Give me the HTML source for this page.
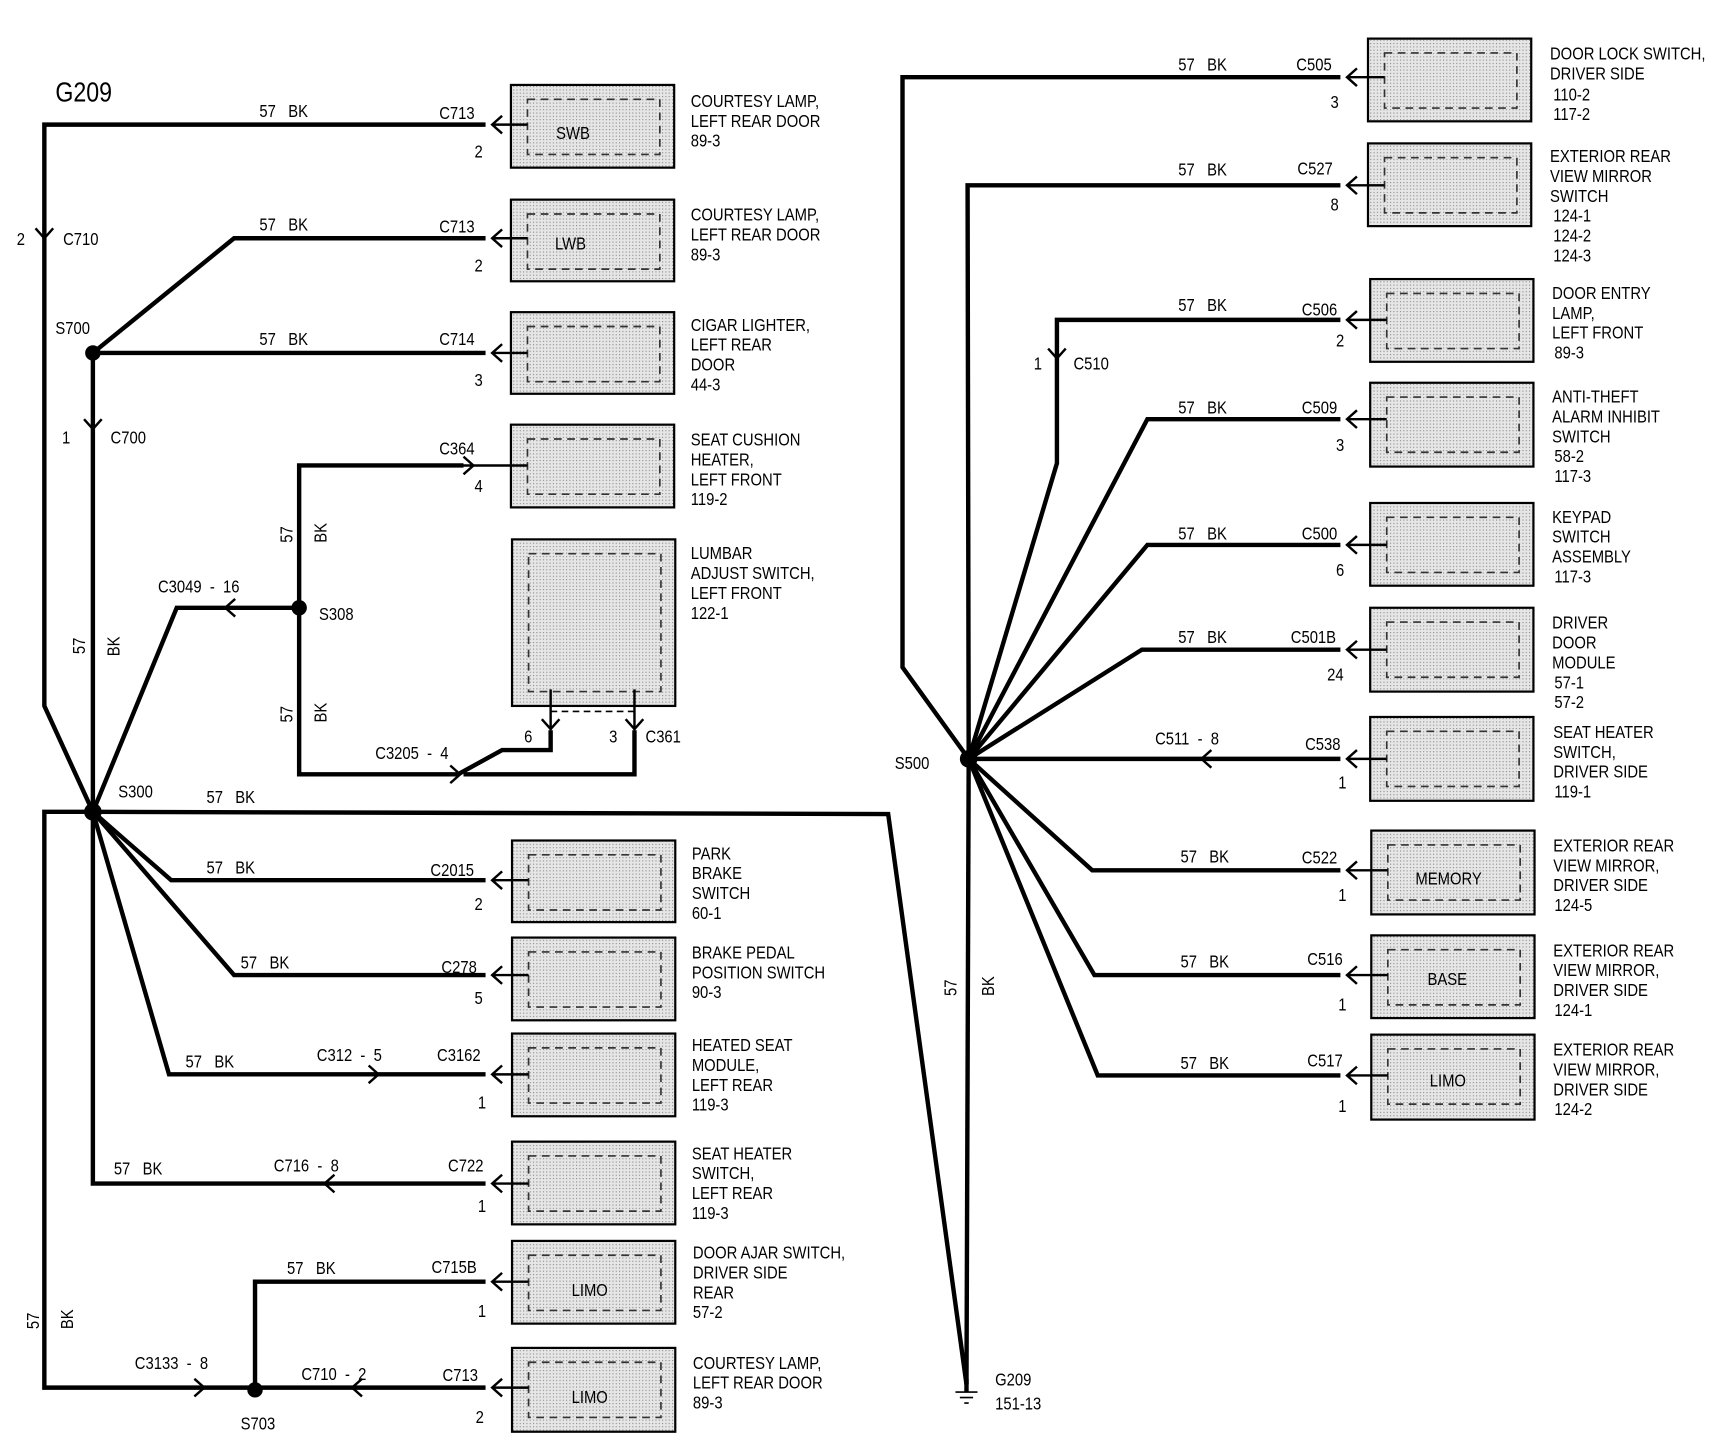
<!DOCTYPE html>
<html><head><meta charset="utf-8"><style>
html,body{margin:0;padding:0;background:#fff;}
svg{display:block}
text{font-family:"Liberation Sans Narrow","Liberation Sans",sans-serif;font-size:16px;fill:#000;white-space:pre;transform-box:fill-box;transform-origin:0 50%;transform:scaleX(0.84)}
text.r{transform-box:view-box;transform-origin:0 0}
.w{stroke:#000;stroke-width:4;fill:none;stroke-linejoin:miter}
.t{stroke:#000;stroke-width:1.5;fill:none}
.c{stroke:#000;stroke-width:2.2;fill:none}
.b{fill:url(#dots);stroke:#000;stroke-width:2}
.d{fill:none;stroke:#333;stroke-width:1.5;stroke-dasharray:7 5}
</style></head><body>
<svg width="1730" height="1456" viewBox="0 0 1568 1320" xmlns="http://www.w3.org/2000/svg">
<defs>
<pattern id="dots" width="3" height="3" patternUnits="userSpaceOnUse">
<rect width="3" height="3" fill="#e6e6e6"/><rect width="1" height="1" fill="#8a8a8a"/>
</pattern>
</defs>

<g>
<rect class="b" x="463" y="77" width="148" height="75"/><rect class="d" x="478" y="90" width="120" height="50"/>
<rect class="b" x="463" y="181" width="148" height="74"/><rect class="d" x="478" y="194" width="120" height="50"/>
<rect class="b" x="463" y="283" width="148" height="74"/><rect class="d" x="478" y="296" width="120" height="50"/>
<rect class="b" x="463" y="385" width="148" height="75"/><rect class="d" x="478" y="398" width="120" height="50"/>
<rect class="b" x="464" y="489" width="148" height="151"/><rect class="d" x="479" y="502" width="120" height="125"/>
<rect class="b" x="464" y="762" width="148" height="74"/><rect class="d" x="479" y="775" width="120" height="50"/>
<rect class="b" x="464" y="850" width="148" height="75"/><rect class="d" x="479" y="863" width="120" height="50"/>
<rect class="b" x="464" y="937" width="148" height="75"/><rect class="d" x="479" y="950" width="120" height="50"/>
<rect class="b" x="464" y="1035" width="148" height="75"/><rect class="d" x="479" y="1048" width="120" height="50"/>
<rect class="b" x="464" y="1125" width="148" height="75"/><rect class="d" x="479" y="1138" width="120" height="50"/>
<rect class="b" x="464" y="1222" width="148" height="76"/><rect class="d" x="479" y="1235" width="120" height="50"/>
</g>
<text x="504" y="126">SWB</text>
<text x="503" y="226">LWB</text>
<text x="518" y="1175">LIMO</text>
<text x="518" y="1272">LIMO</text>

<g>
<rect class="b" x="1240" y="35" width="148" height="75"/><rect class="d" x="1255" y="48" width="120" height="50"/>
<rect class="b" x="1240" y="130" width="148" height="75"/><rect class="d" x="1255" y="143" width="120" height="50"/>
<rect class="b" x="1242" y="253" width="148" height="75"/><rect class="d" x="1257" y="266" width="120" height="50"/>
<rect class="b" x="1242" y="347" width="148" height="76"/><rect class="d" x="1257" y="360" width="120" height="50"/>
<rect class="b" x="1242" y="456" width="148" height="75"/><rect class="d" x="1257" y="469" width="120" height="50"/>
<rect class="b" x="1242" y="551" width="148" height="76"/><rect class="d" x="1257" y="564" width="120" height="50"/>
<rect class="b" x="1242" y="650" width="148" height="76"/><rect class="d" x="1257" y="663" width="120" height="50"/>
<rect class="b" x="1243" y="753" width="148" height="76"/><rect class="d" x="1258" y="766" width="120" height="50"/>
<rect class="b" x="1243" y="848" width="148" height="75"/><rect class="d" x="1258" y="861" width="120" height="50"/>
<rect class="b" x="1243" y="938" width="148" height="77"/><rect class="d" x="1258" y="951" width="120" height="50"/>
</g>
<text x="1283" y="802">MEMORY</text>
<text x="1294" y="893">BASE</text>
<text x="1296" y="985">LIMO</text>

<polyline class="w" points="440,113 40,113 40,640 84,736"/>
<polyline class="w" points="84,320 212,216 440,216"/>
<polyline class="w" points="84,320 440,320"/>
<polyline class="w" points="84,320 84,736"/>
<polyline class="w" points="420,422 271,422 271,702 415,702"/>
<polyline class="w" points="271,551 160,551 84,736"/>
<polyline class="w" points="415,702 455,680 499,680 499,662"/>
<polyline class="w" points="575,662 575,702 420,702"/>
<polyline class="w" points="84,736 805,738 876,1255"/>
<polyline class="w" points="84,736 40,736 40,1258 231,1258"/>
<polyline class="w" points="84,736 155,798 440,798"/>
<polyline class="w" points="84,736 212,884 440,884"/>
<polyline class="w" points="84,736 153,974 440,974"/>
<polyline class="w" points="84,736 84,1073 440,1073"/>
<polyline class="w" points="231,1258 231,1162 440,1162"/>
<polyline class="w" points="231,1258 440,1258"/>
<line class="w" x1="876" y1="1250" x2="876" y2="1262"/>
<line class="t" x1="866" y1="1262" x2="886" y2="1262"/>
<line class="t" x1="870" y1="1267" x2="882" y2="1267"/>
<line class="t" x1="874" y1="1272" x2="878" y2="1272"/>

<circle cx="84" cy="320" r="7"/>
<circle cx="271" cy="551" r="7"/>
<circle cx="84" cy="736" r="8"/>
<circle cx="231" cy="1260" r="7"/>
<circle cx="878" cy="688" r="8"/>

<g class="c">
<path d="M455,105 L446,113 L455,121 M446,113 H478"/>
<path d="M455,208 L446,216 L455,224 M446,216 H478"/>
<path d="M455,312 L446,320 L455,328 M446,320 H478"/>
<path d="M420,414 L429,422 L420,430 M420,422 H478"/>
<path d="M455,790 L446,798 L455,806 M446,798 H479"/>
<path d="M455,876 L446,884 L455,892 M446,884 H479"/>
<path d="M455,966 L446,974 L455,982 M446,974 H479"/>
<path d="M455,1065 L446,1073 L455,1081 M446,1073 H479"/>
<path d="M455,1154 L446,1162 L455,1170 M446,1162 H479"/>
<path d="M455,1250 L446,1258 L455,1266 M446,1258 H479"/>
<path d="M213,543 L204,551 L213,559"/>
<path d="M334,966 L343,974 L334,982"/>
<path d="M303,1065 L294,1073 L303,1081"/>
<path d="M408,694 L417,702 L408,710"/>
<path d="M176,1250 L185,1258 L176,1266"/>
<path d="M328,1250 L319,1258 L328,1266"/>
<path d="M32,207 L40,216 L48,207"/>
<path d="M76,380 L84,389 L92,380"/>
<path d="M491,652 L499,661 L507,652 M499,625 V662"/>
<path d="M567,652 L575,661 L583,652 M575,625 V662"/>
</g>
<line x1="499" y1="645" x2="575" y2="645" stroke="#000" stroke-width="1.5" stroke-dasharray="6 4"/>

<polyline class="w" points="878,688 818,605 818,70 1215,70"/>
<polyline class="w" points="878,688 877,168 1215,168"/>
<polyline class="w" points="878,688 958,420 958,290 1215,290"/>
<polyline class="w" points="878,688 1040,380 1215,380"/>
<polyline class="w" points="878,688 1040,494 1215,494"/>
<polyline class="w" points="878,688 1035,589 1215,589"/>
<polyline class="w" points="878,688 1215,688"/>
<polyline class="w" points="878,688 990,789 1215,789"/>
<polyline class="w" points="878,688 992,884 1215,884"/>
<polyline class="w" points="878,688 995,975 1215,975"/>
<polyline class="w" points="878,688 876,1255"/>
<g class="c">
<path d="M1230,62 L1221,70 L1230,78 M1221,70 H1255"/>
<path d="M1230,160 L1221,168 L1230,176 M1221,168 H1255"/>
<path d="M1230,282 L1221,290 L1230,298 M1221,290 H1257"/>
<path d="M1230,372 L1221,380 L1230,388 M1221,380 H1257"/>
<path d="M1230,486 L1221,494 L1230,502 M1221,494 H1257"/>
<path d="M1230,581 L1221,589 L1230,597 M1221,589 H1257"/>
<path d="M1230,680 L1221,688 L1230,696 M1221,688 H1257"/>
<path d="M1230,781 L1221,789 L1230,797 M1221,789 H1258"/>
<path d="M1230,876 L1221,884 L1230,892 M1221,884 H1258"/>
<path d="M1230,967 L1221,975 L1230,983 M1221,975 H1258"/>
<path d="M1098,680 L1089,688 L1098,696"/>
<path d="M950,316 L958,325 L966,316"/>
</g>

<text x="50" y="92" style="font-size:25px">G209</text>
<text x="235" y="106">57   BK</text><text x="398" y="108">C713</text><text x="430" y="143">2</text>
<text x="235" y="209">57   BK</text><text x="398" y="211">C713</text><text x="430" y="246">2</text>
<text x="235" y="313">57   BK</text><text x="398" y="313">C714</text><text x="430" y="350">3</text>
<text x="398" y="412">C364</text><text x="430" y="446">4</text>
<text x="15" y="222">2</text><text x="57" y="222">C710</text>
<text x="56" y="402">1</text><text x="100" y="402">C700</text>
<text x="50" y="303">S700</text>
<text x="289" y="562">S308</text>
<text x="143" y="537">C3049  -  16</text>
<text x="340" y="688">C3205  -  4</text>
<text x="475" y="673">6</text><text x="552" y="673">3</text><text x="585" y="673">C361</text>
<text x="107" y="723">S300</text>
<text x="187" y="728">57   BK</text>
<text x="187" y="792">57   BK</text><text x="390" y="794">C2015</text><text x="430" y="825">2</text>
<text x="218" y="878">57   BK</text><text x="400" y="882">C278</text><text x="430" y="910">5</text>
<text x="168" y="968">57   BK</text><text x="287" y="962">C312  -  5</text><text x="396" y="962">C3162</text><text x="433" y="1005">1</text>
<text x="103" y="1065">57   BK</text><text x="248" y="1062">C716  -  8</text><text x="406" y="1062">C722</text><text x="433" y="1099">1</text>
<text x="260" y="1155">57   BK</text><text x="391" y="1154">C715B</text><text x="433" y="1194">1</text>
<text x="122" y="1241">C3133  -  8</text><text x="273" y="1251">C710  -  2</text><text x="401" y="1252">C713</text><text x="431" y="1290">2</text>
<text x="218" y="1296">S703</text>
<text class="r" style="transform:translate(77px,593px) rotate(-90deg) scaleX(0.84)">57</text><text class="r" style="transform:translate(108px,595px) rotate(-90deg) scaleX(0.84)">BK</text>
<text class="r" style="transform:translate(265px,492px) rotate(-90deg) scaleX(0.84)">57</text><text class="r" style="transform:translate(296px,492px) rotate(-90deg) scaleX(0.84)">BK</text>
<text class="r" style="transform:translate(265px,655px) rotate(-90deg) scaleX(0.84)">57</text><text class="r" style="transform:translate(296px,655px) rotate(-90deg) scaleX(0.84)">BK</text>
<text class="r" style="transform:translate(35px,1205px) rotate(-90deg) scaleX(0.84)">57</text><text class="r" style="transform:translate(66px,1205px) rotate(-90deg) scaleX(0.84)">BK</text>
<text class="r" style="transform:translate(867px,903px) rotate(-90deg) scaleX(0.84)">57</text><text class="r" style="transform:translate(901px,903px) rotate(-90deg) scaleX(0.84)">BK</text>
<text x="902" y="1256">G209</text><text x="902" y="1278">151-13</text>

<g>
<text x="626" y="97">COURTESY LAMP,</text><text x="626" y="115">LEFT REAR DOOR</text><text x="626" y="133">89-3</text>
<text x="626" y="200">COURTESY LAMP,</text><text x="626" y="218">LEFT REAR DOOR</text><text x="626" y="236">89-3</text>
<text x="626" y="300">CIGAR LIGHTER,</text><text x="626" y="318">LEFT REAR</text><text x="626" y="336">DOOR</text><text x="626" y="354">44-3</text>
<text x="626" y="404">SEAT CUSHION</text><text x="626" y="422">HEATER,</text><text x="626" y="440">LEFT FRONT</text><text x="626" y="458">119-2</text>
<text x="626" y="507">LUMBAR</text><text x="626" y="525">ADJUST SWITCH,</text><text x="626" y="543">LEFT FRONT</text><text x="626" y="561">122-1</text>
<text x="627" y="779">PARK</text><text x="627" y="797">BRAKE</text><text x="627" y="815">SWITCH</text><text x="627" y="833">60-1</text>
<text x="627" y="869">BRAKE PEDAL</text><text x="627" y="887">POSITION SWITCH</text><text x="627" y="905">90-3</text>
<text x="627" y="953">HEATED SEAT</text><text x="627" y="971">MODULE,</text><text x="627" y="989">LEFT REAR</text><text x="627" y="1007">119-3</text>
<text x="627" y="1051">SEAT HEATER</text><text x="627" y="1069">SWITCH,</text><text x="627" y="1087">LEFT REAR</text><text x="627" y="1105">119-3</text>
<text x="628" y="1141">DOOR AJAR SWITCH,</text><text x="628" y="1159">DRIVER SIDE</text><text x="628" y="1177">REAR</text><text x="628" y="1195">57-2</text>
<text x="628" y="1241">COURTESY LAMP,</text><text x="628" y="1259">LEFT REAR DOOR</text><text x="628" y="1277">89-3</text>
</g>

<text x="1068" y="64">57   BK</text><text x="1175" y="64">C505</text><text x="1206" y="98">3</text>
<text x="1068" y="159">57   BK</text><text x="1176" y="158">C527</text><text x="1206" y="191">8</text>
<text x="1068" y="282">57   BK</text><text x="1180" y="286">C506</text><text x="1211" y="314">2</text>
<text x="937" y="335">1</text><text x="973" y="335">C510</text>
<text x="1068" y="375">57   BK</text><text x="1180" y="375">C509</text><text x="1211" y="409">3</text>
<text x="1068" y="489">57   BK</text><text x="1180" y="489">C500</text><text x="1211" y="522">6</text>
<text x="1068" y="583">57   BK</text><text x="1170" y="583">C501B</text><text x="1203" y="617">24</text>
<text x="1047" y="675">C511  -  8</text><text x="1183" y="680">C538</text><text x="1213" y="715">1</text>
<text x="811" y="697">S500</text>
<text x="1070" y="782">57   BK</text><text x="1180" y="783">C522</text><text x="1213" y="817">1</text>
<text x="1070" y="877">57   BK</text><text x="1185" y="875">C516</text><text x="1213" y="916">1</text>
<text x="1070" y="969">57   BK</text><text x="1185" y="967">C517</text><text x="1213" y="1008">1</text>

<g>
<text x="1405" y="54">DOOR LOCK SWITCH,</text><text x="1405" y="72">DRIVER SIDE</text><text x="1408" y="91">110-2</text><text x="1408" y="109">117-2</text>
<text x="1405" y="147">EXTERIOR REAR</text><text x="1405" y="165">VIEW MIRROR</text><text x="1405" y="183">SWITCH</text><text x="1408" y="201">124-1</text><text x="1408" y="219">124-2</text><text x="1408" y="237">124-3</text>
<text x="1407" y="271">DOOR ENTRY</text><text x="1407" y="289">LAMP,</text><text x="1407" y="307">LEFT FRONT</text><text x="1409" y="325">89-3</text>
<text x="1407" y="365">ANTI-THEFT</text><text x="1407" y="383">ALARM INHIBIT</text><text x="1407" y="401">SWITCH</text><text x="1409" y="419">58-2</text><text x="1409" y="437">117-3</text>
<text x="1407" y="474">KEYPAD</text><text x="1407" y="492">SWITCH</text><text x="1407" y="510">ASSEMBLY</text><text x="1409" y="528">117-3</text>
<text x="1407" y="570">DRIVER</text><text x="1407" y="588">DOOR</text><text x="1407" y="606">MODULE</text><text x="1409" y="624">57-1</text><text x="1409" y="642">57-2</text>
<text x="1408" y="669">SEAT HEATER</text><text x="1408" y="687">SWITCH,</text><text x="1408" y="705">DRIVER SIDE</text><text x="1409" y="723">119-1</text>
<text x="1408" y="772">EXTERIOR REAR</text><text x="1408" y="790">VIEW MIRROR,</text><text x="1408" y="808">DRIVER SIDE</text><text x="1409" y="826">124-5</text>
<text x="1408" y="867">EXTERIOR REAR</text><text x="1408" y="885">VIEW MIRROR,</text><text x="1408" y="903">DRIVER SIDE</text><text x="1409" y="921">124-1</text>
<text x="1408" y="957">EXTERIOR REAR</text><text x="1408" y="975">VIEW MIRROR,</text><text x="1408" y="993">DRIVER SIDE</text><text x="1409" y="1011">124-2</text>
</g>
</svg>
</body></html>
